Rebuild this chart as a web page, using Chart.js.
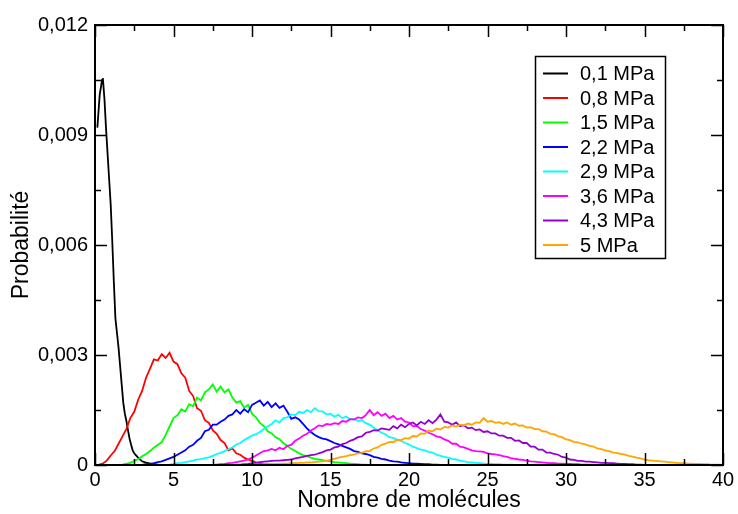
<!DOCTYPE html>
<html>
<head>
<meta charset="utf-8">
<script src="https://cdn.jsdelivr.net/npm/chart.js@4/dist/chart.umd.min.js"></script>
<style>
  html, body { margin: 0; padding: 0; background: #fff; }
  #c { display: block; }
</style>
</head>
<body>
<canvas id="c" width="738" height="514"></canvas>
<script>
// pressures (legend) and line colours
const pressures = ['0,1 MPa', '0,8 MPa', '1,5 MPa', '2,2 MPa', '2,9 MPa', '3,6 MPa', '4,3 MPa', '5 MPa'];
const colors = ['#000000', '#ff0000', '#00ff00', '#0000ff', '#00ffff', '#ff00ff', '#9400d3', '#ffa500'];

// probabilities are read in units of 1e-3
const yUnit = 0.001;
const binWidth = 0.25;

// 0,1 MPa : uneven sampling
const x01 = [0.15, 0.3, 0.45, 0.5, 0.6, 0.7, 0.8, 0.9, 1.0, 1.1, 1.2, 1.3, 1.4, 1.5, 1.6, 1.7, 1.8, 1.9, 2.0, 2.1, 2.2, 2.3, 2.4, 2.5, 2.6, 2.7, 2.8, 2.9, 3.0, 3.2, 3.4, 3.6, 3.8, 4.0, 4.5, 5.0];
const y01 = [9.2, 10.1, 10.5, 10.55, 10.0, 9.2, 8.5, 7.8, 7.1, 6.1, 5.0, 4.0, 3.6, 3.2, 2.7, 2.2, 1.7, 1.4, 1.2, 0.95, 0.72, 0.55, 0.4, 0.32, 0.27, 0.22, 0.18, 0.14, 0.1, 0.07, 0.05, 0.03, 0.02, 0.01, 0, 0];

// other pressures : first bin + values every binWidth
const start08 = 0;
const y08 = [0, 0.01, 0.04, 0.12, 0.26, 0.38, 0.58, 0.78, 0.98, 1.28, 1.45, 1.78, 2.02, 2.38, 2.62, 2.88, 2.85, 3.02, 2.92, 3.06, 2.82, 2.75, 2.5, 2.38, 2.02, 1.88, 1.55, 1.48, 1.22, 1.15, 0.95, 0.85, 0.68, 0.6, 0.4, 0.45, 0.32, 0.28, 0.2, 0.15, 0.11, 0.07, 0.05, 0.03, 0.02, 0.01, 0, 0, 0];

const start15 = 1.5;
const y15 = [0, 0.01, 0.04, 0.06, 0.11, 0.16, 0.24, 0.3, 0.38, 0.47, 0.55, 0.62, 0.82, 1.05, 1.28, 1.36, 1.52, 1.46, 1.66, 1.6, 1.84, 1.76, 1.98, 2.06, 2.2, 2.0, 2.14, 1.98, 2.06, 1.84, 1.7, 1.74, 1.56, 1.64, 1.4, 1.3, 1.15, 1.06, 0.92, 0.86, 0.76, 0.7, 0.6, 0.52, 0.44, 0.38, 0.32, 0.27, 0.24, 0.2, 0.17, 0.15, 0.13, 0.11, 0.1, 0.08, 0.07, 0.06, 0.05, 0.04, 0.03, 0.02, 0.01, 0.01, 0];

const start22 = 3;
const y22 = [0, 0.02, 0.03, 0.05, 0.08, 0.1, 0.14, 0.18, 0.22, 0.28, 0.34, 0.4, 0.5, 0.55, 0.66, 0.74, 0.92, 0.96, 1.1, 1.1, 1.18, 1.24, 1.34, 1.38, 1.5, 1.4, 1.52, 1.44, 1.64, 1.7, 1.76, 1.62, 1.72, 1.58, 1.68, 1.56, 1.62, 1.45, 1.26, 1.3, 1.24, 1.12, 1.0, 0.9, 0.82, 0.76, 0.72, 0.7, 0.65, 0.6, 0.56, 0.52, 0.48, 0.44, 0.38, 0.36, 0.32, 0.3, 0.27, 0.22, 0.2, 0.17, 0.15, 0.12, 0.1, 0.09, 0.07, 0.06, 0.05, 0.04, 0.04, 0.03, 0.02, 0.02, 0.01, 0.01, 0];

const start29 = 4.5;
const y29 = [0, 0.01, 0.03, 0.05, 0.06, 0.08, 0.1, 0.12, 0.15, 0.16, 0.19, 0.21, 0.25, 0.3, 0.33, 0.38, 0.43, 0.48, 0.56, 0.6, 0.68, 0.74, 0.8, 0.84, 0.9, 0.98, 1.06, 1.12, 1.22, 1.16, 1.28, 1.3, 1.38, 1.36, 1.45, 1.42, 1.5, 1.44, 1.55, 1.47, 1.46, 1.38, 1.4, 1.32, 1.37, 1.28, 1.32, 1.25, 1.26, 1.2, 1.22, 1.14, 1.1, 1.02, 0.95, 0.88, 0.84, 0.76, 0.74, 0.68, 0.66, 0.6, 0.56, 0.5, 0.46, 0.42, 0.4, 0.36, 0.34, 0.28, 0.25, 0.22, 0.2, 0.17, 0.15, 0.12, 0.1, 0.08, 0.07, 0.06, 0.05, 0.04, 0.03, 0.03, 0.02, 0.02, 0.01, 0.01, 0.01, 0, 0];

const start36 = 7.5;
const y36 = [0, 0.01, 0.02, 0.03, 0.05, 0.06, 0.08, 0.1, 0.12, 0.15, 0.2, 0.26, 0.32, 0.38, 0.4, 0.44, 0.4, 0.47, 0.43, 0.52, 0.55, 0.66, 0.72, 0.8, 0.85, 0.94, 1.0, 1.08, 1.06, 1.12, 1.1, 1.14, 1.12, 1.2, 1.18, 1.25, 1.24, 1.3, 1.28, 1.36, 1.5, 1.36, 1.44, 1.34, 1.4, 1.28, 1.34, 1.24, 1.28, 1.18, 1.16, 1.06, 1.06, 0.98, 0.94, 0.88, 0.84, 0.78, 0.76, 0.7, 0.66, 0.58, 0.58, 0.5, 0.48, 0.44, 0.4, 0.38, 0.37, 0.36, 0.32, 0.3, 0.29, 0.27, 0.24, 0.22, 0.19, 0.17, 0.15, 0.14, 0.12, 0.1, 0.09, 0.08, 0.07, 0.06, 0.05, 0.05, 0.04, 0.04, 0.03, 0.03, 0.02, 0.02, 0.01, 0.01, 0.01, 0, 0];

const start43 = 9;
const y43 = [0, 0.01, 0.02, 0.03, 0.05, 0.06, 0.08, 0.09, 0.1, 0.11, 0.12, 0.12, 0.13, 0.14, 0.15, 0.18, 0.2, 0.22, 0.25, 0.27, 0.28, 0.32, 0.35, 0.4, 0.42, 0.48, 0.5, 0.57, 0.6, 0.66, 0.7, 0.76, 0.78, 0.88, 0.9, 0.95, 0.94, 1.0, 0.98, 0.96, 1.06, 1.0, 1.1, 1.03, 1.12, 1.16, 1.08, 1.18, 1.12, 1.22, 1.14, 1.24, 1.38, 1.18, 1.16, 1.1, 1.16, 1.06, 1.08, 1.0, 1.02, 0.95, 0.97, 0.9, 0.92, 0.86, 0.86, 0.8, 0.8, 0.74, 0.74, 0.66, 0.67, 0.6, 0.6, 0.5, 0.5, 0.42, 0.42, 0.34, 0.34, 0.3, 0.28, 0.22, 0.2, 0.15, 0.14, 0.11, 0.11, 0.09, 0.09, 0.08, 0.07, 0.06, 0.06, 0.05, 0.05, 0.04, 0.03, 0.03, 0.02, 0.02, 0.01, 0.01, 0];

const start50 = 10;
const y50 = [0, 0.01, 0.01, 0.02, 0.02, 0.02, 0.03, 0.03, 0.04, 0.04, 0.05, 0.05, 0.06, 0.06, 0.07, 0.07, 0.08, 0.09, 0.1, 0.12, 0.14, 0.17, 0.2, 0.22, 0.24, 0.27, 0.28, 0.32, 0.33, 0.38, 0.38, 0.45, 0.48, 0.55, 0.58, 0.63, 0.62, 0.69, 0.68, 0.73, 0.72, 0.79, 0.78, 0.86, 0.85, 0.94, 0.92, 0.99, 0.97, 1.04, 1.02, 1.08, 1.05, 1.1, 1.08, 1.13, 1.1, 1.16, 1.15, 1.28, 1.18, 1.2, 1.15, 1.17, 1.12, 1.16, 1.1, 1.13, 1.07, 1.08, 1.02, 1.03, 0.98, 0.98, 0.92, 0.91, 0.85, 0.84, 0.78, 0.76, 0.7, 0.68, 0.63, 0.62, 0.58, 0.56, 0.52, 0.5, 0.45, 0.43, 0.4, 0.38, 0.34, 0.33, 0.3, 0.28, 0.25, 0.23, 0.2, 0.18, 0.15, 0.13, 0.12, 0.11, 0.1, 0.09, 0.08, 0.07, 0.06, 0.05, 0.05, 0.04, 0.04, 0.03, 0.03, 0.02, 0.02, 0.01, 0.01, 0.01, 0.01];

// minor tick positions (majors come from the scales)
const xMinor = [2.5, 7.5, 12.5, 17.5, 22.5, 27.5, 32.5, 37.5];
const yMinor = [0.0015, 0.0045, 0.0075, 0.0105];

const FONT = "'Liberation Sans', Arial, Helvetica, sans-serif";

function binned(start, values) {
    return values.map((v, i) => ({x: start + i * binWidth, y: v * yUnit}));
}

let series = [
    x01.map((x, i) => ({x: x, y: y01[i] * yUnit})),
    binned(start08, y08),
    binned(start15, y15),
    binned(start22, y22),
    binned(start29, y29),
    binned(start36, y36),
    binned(start43, y43),
    binned(start50, y50)
];

// frame + inward ticks on all four sides
const frame = {
    id: 'frame',
    afterDatasetsDraw(chart) {
        let ctx = chart.ctx, a = chart.chartArea;
        let xs = chart.scales.x, ys = chart.scales.y;
        ctx.save();
        ctx.strokeStyle = '#000';
        ctx.lineWidth = 1.5;
        ctx.beginPath();
        let xt = xs.ticks.map(t => [t.value, 12]).concat(xMinor.map(v => [v, 6]));
        for (let [v, len] of xt) {
            let px = Math.round(xs.getPixelForValue(v)) + 0.5;
            ctx.moveTo(px, a.bottom); ctx.lineTo(px, a.bottom - len);
            ctx.moveTo(px, a.top); ctx.lineTo(px, a.top + len);
        }
        let yt = ys.ticks.map(t => [t.value, 12]).concat(yMinor.map(v => [v, 6]));
        for (let [v, len] of yt) {
            let py = Math.round(ys.getPixelForValue(v)) + 0.5;
            ctx.moveTo(a.left, py); ctx.lineTo(a.left + len, py);
            ctx.moveTo(a.right, py); ctx.lineTo(a.right - len, py);
        }
        ctx.stroke();
        ctx.lineWidth = 2;
        ctx.strokeRect(a.left, a.top, a.right - a.left, a.bottom - a.top);
        ctx.restore();
    }
};

// boxed legend in the upper right of the plot
const boxLegend = {
    id: 'boxLegend',
    afterDraw(chart) {
        let ctx = chart.ctx;
        let left = 535, top = 56, w = 130, h = 202;
        ctx.save();
        ctx.fillStyle = '#fff';
        ctx.fillRect(left, top, w, h);
        ctx.strokeStyle = '#000';
        ctx.lineWidth = 1.5;
        ctx.strokeRect(left + 0.5, top + 0.5, w, h);
        ctx.font = '20px ' + FONT;
        ctx.textBaseline = 'middle';
        ctx.textAlign = 'left';
        for (let i = 0; i < pressures.length; i++) {
            let yy = top + 17.5 + i * 24.5;
            ctx.strokeStyle = colors[i];
            ctx.lineWidth = 2;
            ctx.beginPath();
            ctx.moveTo(left + 8, yy); ctx.lineTo(left + 33, yy);
            ctx.stroke();
            ctx.fillStyle = '#000';
            ctx.fillText(pressures[i], left + 45, yy + 1);
        }
        ctx.restore();
    }
};

new Chart(document.getElementById('c'), {
    type: 'line',
    data: {
        datasets: series.map((d, i) => ({
            label: pressures[i],
            data: d,
            borderColor: colors[i],
            borderWidth: 1.8,
            pointRadius: 0,
            tension: 0,
            fill: false,
            order: series.length - i
        }))
    },
    options: {
        responsive: false,
        animation: false,
        devicePixelRatio: 1,
        layout: {padding: {left: 0, top: 25, right: 15, bottom: 0}},
        plugins: {legend: {display: false}, tooltip: {enabled: false}},
        scales: {
            x: {
                type: 'linear', min: 0, max: 40,
                grid: {display: false, drawTicks: false},
                border: {display: false},
                ticks: {stepSize: 5, padding: 3, color: '#000', font: {family: FONT, size: 20}, maxRotation: 0},
                title: {display: true, text: 'Nombre de molécules', color: '#000', font: {family: FONT, size: 23}, padding: {top: 0, bottom: 0}},
                afterFit(s) { s.height = 49; }
            },
            y: {
                type: 'linear', min: 0, max: 0.012,
                grid: {display: false, drawTicks: false},
                border: {display: false},
                ticks: {
                    stepSize: 0.003, padding: 7, color: '#000', font: {family: FONT, size: 20},
                    callback: v => v === 0 ? '0' : v.toFixed(3).replace('.', ',')
                },
                title: {display: true, text: 'Probabilité', color: '#000', font: {family: FONT, size: 23}, padding: {top: 8, bottom: 0}},
                afterFit(s) { s.width = 95; }
            }
        }
    },
    plugins: [frame, boxLegend]
});
</script>
</body>
</html>
